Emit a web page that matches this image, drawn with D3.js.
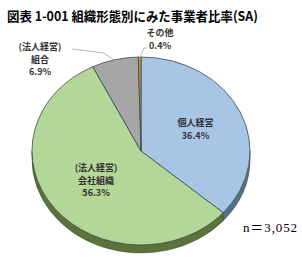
<!DOCTYPE html>
<html><head><meta charset="utf-8">
<script src="https://cdn.jsdelivr.net/npm/d3@7"></script>
<style>body{margin:0;background:#fff}svg{display:block}</style>
</head><body>
<script>
const categories = ["個人経営", "(法人経営)会社組織", "(法人経営)組合", "その他"];
const labelLines = [["個人経営"], ["(法人経営)", "会社組織"], ["(法人経営)", "組合"], ["その他"]];
const values = [36.4, 56.3, 6.9, 0.4];
const valueLabels = ["36.4%", "56.3%", "6.9%", "0.4%"];
const title = "図表 1-001 組織形態別にみた事業者比率(SA)";
const nLabel = "n＝3,052";

const W = 302, H = 261;
const cx = 141, cy = 151, rx = 109, ry = 94, depth = 8;
const topColors = ["#a7c6e6", "#b2d796", "#a6a6a6", "#c89a1e"];
const sideColors = ["#52708f", "#5a7438", "#6a6a6a", "#8a6a10"];

const svg = d3.select("body").append("svg").attr("width", W).attr("height", H);
const font = "'Noto Sans CJK JP','Noto Sans',sans-serif";

svg.append("text").attr("x", 7).attr("y", 21).attr("font-family", font)
  .attr("font-weight", "bold").attr("font-size", 13).attr("fill", "#000")
  .attr("textLength", 251).attr("lengthAdjust", "spacingAndGlyphs").text(title);

const pie = d3.pie().sort(null).startAngle(0).endAngle(2 * Math.PI)(values);
const P = (a, dy = 0) => [cx + rx * Math.sin(a), cy - ry * Math.cos(a) + dy];

// side walls (front half only)
const g = svg.append("g");
pie.forEach((d, i) => {
  const a0 = Math.max(d.startAngle, Math.PI / 2), a1 = Math.min(d.endAngle, 3 * Math.PI / 2);
  if (a1 <= a0) return;
  const p0 = P(a0), p1 = P(a1), q1 = P(a1, depth), q0 = P(a0, depth);
  const path = `M${p0}A${rx},${ry} 0 0 1 ${p1}L${q1}A${rx},${ry} 0 0 0 ${q0}Z`;
  g.append("path").attr("d", path).attr("fill", sideColors[i])
    .attr("stroke", "#3a4a3a").attr("stroke-width", 0.6);
});

// top surfaces
pie.forEach((d, i) => {
  const p0 = P(d.startAngle), p1 = P(d.endAngle);
  const large = (d.endAngle - d.startAngle) > Math.PI ? 1 : 0;
  const path = `M${cx},${cy}L${p0}A${rx},${ry} 0 ${large} 1 ${p1}Z`;
  g.append("path").attr("d", path).attr("fill", topColors[i])
    .attr("stroke", "#404852").attr("stroke-width", 0.8).attr("stroke-linejoin", "round");
});

function label(lines, x, y) {
  const t = svg.append("text").attr("font-family", font).attr("font-weight", "bold")
    .attr("font-size", 9).attr("fill", "#333").attr("text-anchor", "middle");
  lines.forEach((s, k) => t.append("tspan").attr("x", x).attr("y", y + k * 12.5).text(s));
}

// inside labels
[0, 1].forEach(i => {
  const d = pie[i], m = (d.startAngle + d.endAngle) / 2;
  const f = i === 0 ? 0.55 : 0.52;
  const [x, y] = [cx + rx * f * Math.sin(m), cy - ry * f * Math.cos(m)];
  const lines = labelLines[i].concat([valueLabels[i]]);
  label(lines, x, y - (lines.length - 1) * 6.25 + 3);
});

// outside labels with leader lines
const outside = [
  {i: 2, lx: 40, ly: 50, l0: [72, 49]},
  {i: 3, lx: 160, ly: 36, l0: [147, 48]}
];
outside.forEach(o => {
  const d = pie[o.i], m = (d.startAngle + d.endAngle) / 2;
  const edge = P(m);
  const mid = o.i === 2 ? [o.l0[0] + 32, o.l0[1] + 4] : [o.l0[0] - 3, o.l0[1]];
  svg.append("polyline").attr("points", [o.l0, mid, [edge[0], edge[1] + 1]].join(" "))
    .attr("fill", "none").attr("stroke", "#a6a6a6").attr("stroke-width", 0.8);
  label(labelLines[o.i].concat([valueLabels[o.i]]), o.lx, o.ly);
});

svg.append("text").attr("x", 243).attr("y", 232)
  .attr("font-family", "'Liberation Serif','Noto Sans CJK JP',serif").attr("font-size", 13)
  .attr("fill", "#000").attr("textLength", 54).attr("lengthAdjust", "spacing").text(nLabel);
</script>
</body></html>
